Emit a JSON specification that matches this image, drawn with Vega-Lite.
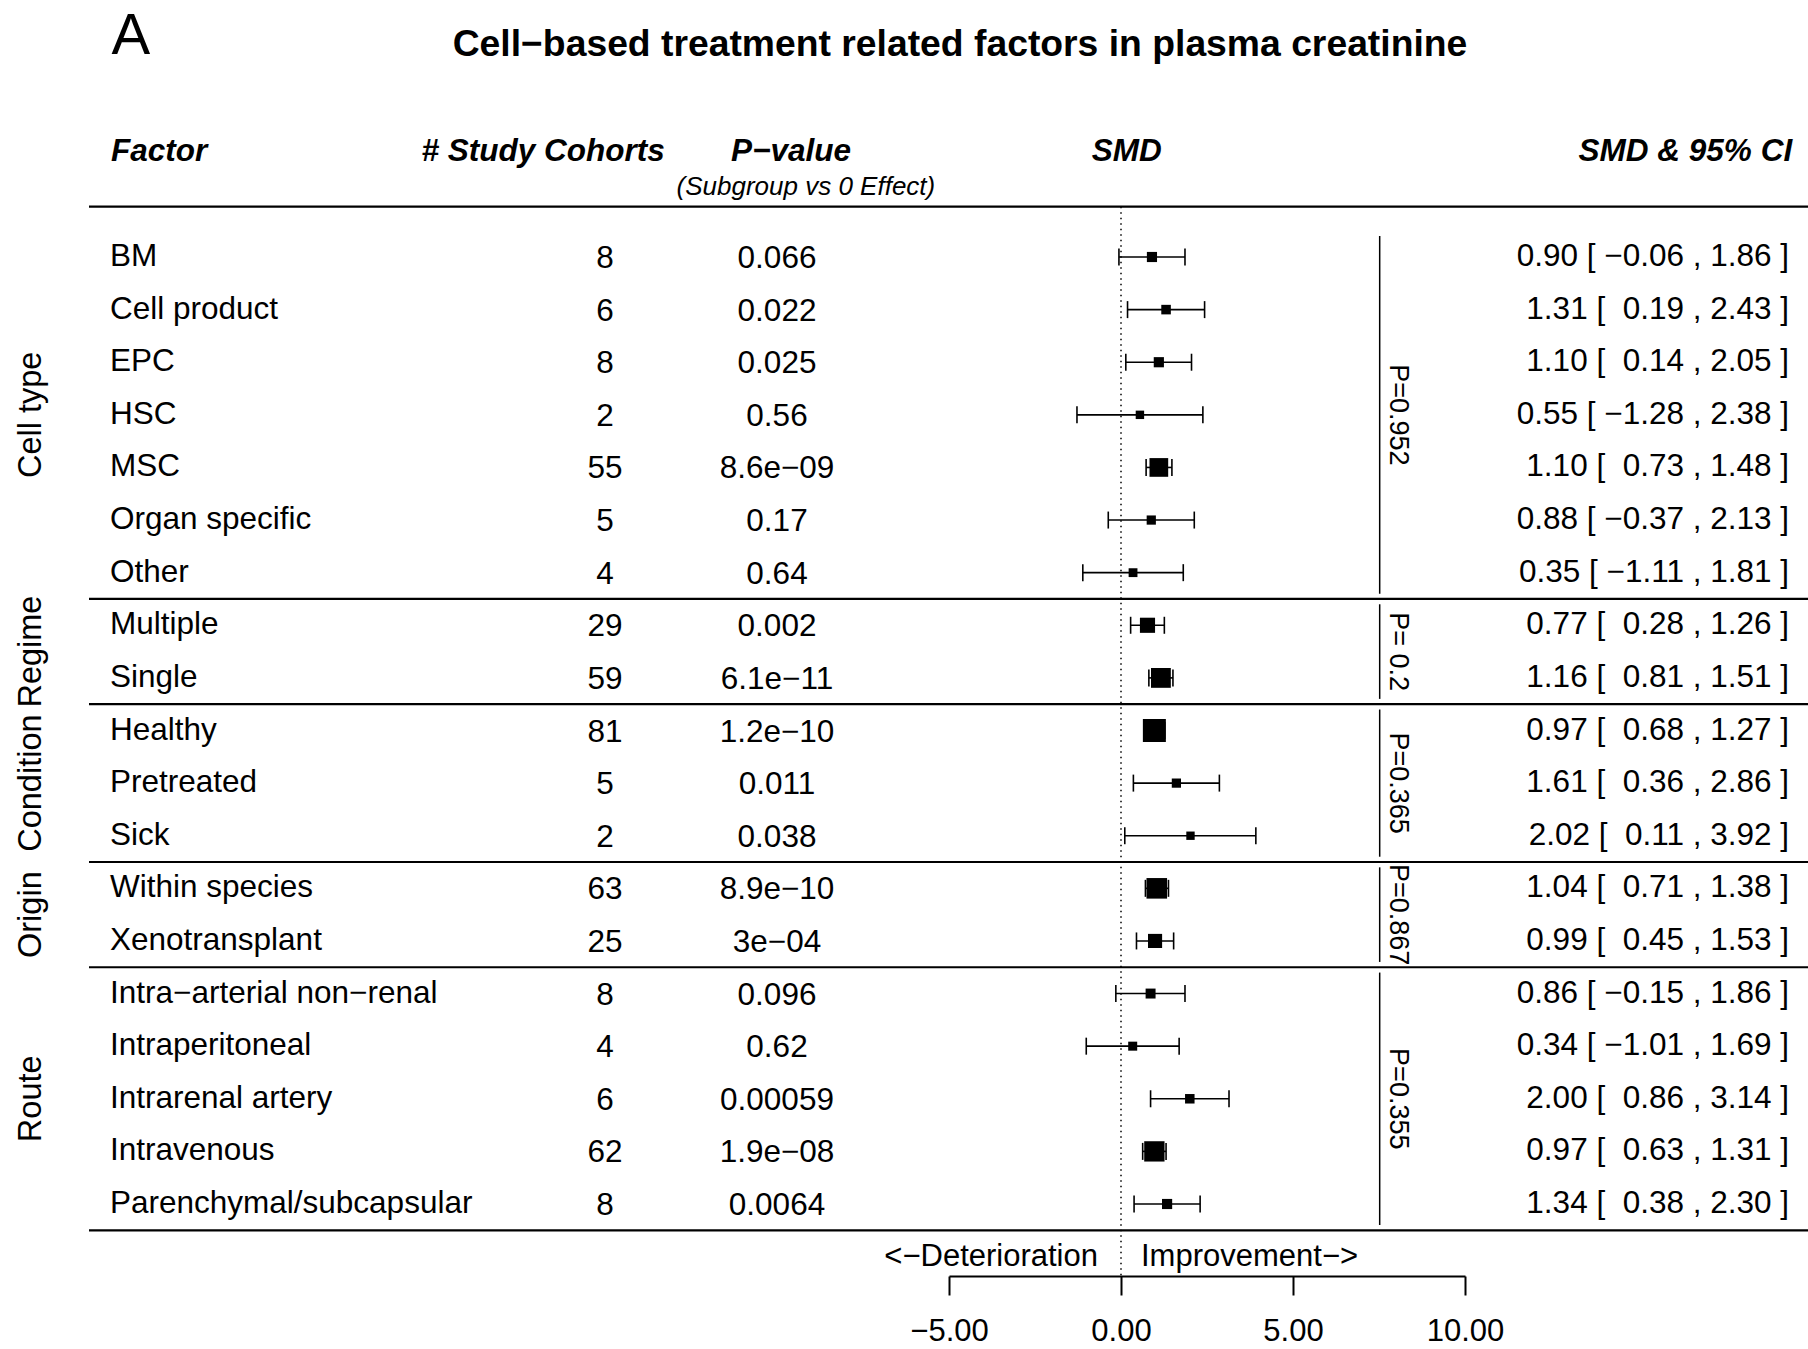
{
  "$schema": "https://vega.github.io/schema/vega-lite/v6.json",
  "width": 1808,
  "height": 1349,
  "autosize": {"type": "none"},
  "padding": 0,
  "background": "white",
  "config": {
    "view": {"stroke": null},
    "font": "Liberation Sans",
    "text": {"font": "Liberation Sans", "color": "black"}
  },
  "data": {
    "values": [
      {"row": 0, "group": "Cell type", "phet": "P=0.952", "factor": "BM", "k": 8, "p": "0.066", "smd": 0.90, "lo": -0.06, "hi": 1.86, "weight": 4.17, "ci": "0.90 [ \u22120.06 , 1.86 ]"},
      {"row": 1, "group": "Cell type", "phet": "P=0.952", "factor": "Cell product", "k": 6, "p": "0.022", "smd": 1.31, "lo": 0.19, "hi": 2.43, "weight": 3.06, "ci": "1.31 [ \u00a00.19 , 2.43 ]"},
      {"row": 2, "group": "Cell type", "phet": "P=0.952", "factor": "EPC", "k": 8, "p": "0.025", "smd": 1.10, "lo": 0.14, "hi": 2.05, "weight": 4.21, "ci": "1.10 [ \u00a00.14 , 2.05 ]"},
      {"row": 3, "group": "Cell type", "phet": "P=0.952", "factor": "HSC", "k": 2, "p": "0.56", "smd": 0.55, "lo": -1.28, "hi": 2.38, "weight": 1.15, "ci": "0.55 [ \u22121.28 , 2.38 ]"},
      {"row": 4, "group": "Cell type", "phet": "P=0.952", "factor": "MSC", "k": 55, "p": "8.6e\u221209", "smd": 1.10, "lo": 0.73, "hi": 1.48, "weight": 27.3, "ci": "1.10 [ \u00a00.73 , 1.48 ]"},
      {"row": 5, "group": "Cell type", "phet": "P=0.952", "factor": "Organ specific", "k": 5, "p": "0.17", "smd": 0.88, "lo": -0.37, "hi": 2.13, "weight": 2.46, "ci": "0.88 [ \u22120.37 , 2.13 ]"},
      {"row": 6, "group": "Cell type", "phet": "P=0.952", "factor": "Other", "k": 4, "p": "0.64", "smd": 0.35, "lo": -1.11, "hi": 1.81, "weight": 1.80, "ci": "0.35 [ \u22121.11 , 1.81 ]"},
      {"row": 7, "group": "Regime", "phet": "P=\u00a00.2", "factor": "Multiple", "k": 29, "p": "0.002", "smd": 0.77, "lo": 0.28, "hi": 1.26, "weight": 16.0, "ci": "0.77 [ \u00a00.28 , 1.26 ]"},
      {"row": 8, "group": "Regime", "phet": "P=\u00a00.2", "factor": "Single", "k": 59, "p": "6.1e\u221211", "smd": 1.16, "lo": 0.81, "hi": 1.51, "weight": 31.4, "ci": "1.16 [ \u00a00.81 , 1.51 ]"},
      {"row": 9, "group": "Condition", "phet": "P=0.365", "factor": "Healthy", "k": 81, "p": "1.2e\u221210", "smd": 0.97, "lo": 0.68, "hi": 1.27, "weight": 44.1, "ci": "0.97 [ \u00a00.68 , 1.27 ]"},
      {"row": 10, "group": "Condition", "phet": "P=0.365", "factor": "Pretreated", "k": 5, "p": "0.011", "smd": 1.61, "lo": 0.36, "hi": 2.86, "weight": 2.46, "ci": "1.61 [ \u00a00.36 , 2.86 ]"},
      {"row": 11, "group": "Condition", "phet": "P=0.365", "factor": "Sick", "k": 2, "p": "0.038", "smd": 2.02, "lo": 0.11, "hi": 3.92, "weight": 1.06, "ci": "2.02 [ \u00a00.11 , 3.92 ]"},
      {"row": 12, "group": "Origin", "phet": "P=0.867", "factor": "Within species", "k": 63, "p": "8.9e\u221210", "smd": 1.04, "lo": 0.71, "hi": 1.38, "weight": 34.2, "ci": "1.04 [ \u00a00.71 , 1.38 ]"},
      {"row": 13, "group": "Origin", "phet": "P=0.867", "factor": "Xenotransplant", "k": 25, "p": "3e\u221204", "smd": 0.99, "lo": 0.45, "hi": 1.53, "weight": 13.2, "ci": "0.99 [ \u00a00.45 , 1.53 ]"},
      {"row": 14, "group": "Route", "phet": "P=0.355", "factor": "Intra\u2212arterial non\u2212renal", "k": 8, "p": "0.096", "smd": 0.86, "lo": -0.15, "hi": 1.86, "weight": 3.80, "ci": "0.86 [ \u22120.15 , 1.86 ]"},
      {"row": 15, "group": "Route", "phet": "P=0.355", "factor": "Intraperitoneal", "k": 4, "p": "0.62", "smd": 0.34, "lo": -1.01, "hi": 1.69, "weight": 2.11, "ci": "0.34 [ \u22121.01 , 1.69 ]"},
      {"row": 16, "group": "Route", "phet": "P=0.355", "factor": "Intrarenal artery", "k": 6, "p": "0.00059", "smd": 2.00, "lo": 0.86, "hi": 3.14, "weight": 2.96, "ci": "2.00 [ \u00a00.86 , 3.14 ]"},
      {"row": 17, "group": "Route", "phet": "P=0.355", "factor": "Intravenous", "k": 62, "p": "1.9e\u221208", "smd": 0.97, "lo": 0.63, "hi": 1.31, "weight": 33.2, "ci": "0.97 [ \u00a00.63 , 1.31 ]"},
      {"row": 18, "group": "Route", "phet": "P=0.355", "factor": "Parenchymal/subcapsular", "k": 8, "p": "0.0064", "smd": 1.34, "lo": 0.38, "hi": 2.30, "weight": 4.17, "ci": "1.34 [ \u00a00.38 , 2.30 ]"}
    ]
  },
  "layer": [
    {
      "data": {"values": [{"ref": "no effect"}]},
      "mark": {"type": "rule", "strokeDash": [1.5, 4], "strokeWidth": 1.5, "color": "black"},
      "encoding": {
        "x": {
          "datum": 0, "type": "quantitative",
          "scale": {"domain": [-5, 10], "range": [949, 1465], "nice": false, "zero": false},
          "axis": {
            "values": [-5, 0, 5, 10], "format": ".2f", "title": null, "orient": "bottom", "offset": -73,
            "grid": false, "domainColor": "black", "domainWidth": 2, "tickColor": "black", "tickWidth": 2,
            "tickSize": 19, "labelFont": "Liberation Sans", "labelFontSize": 31, "labelColor": "black",
            "labelPadding": 21, "labelFlush": false, "labelOverlap": false
          }
        },
        "y": {"datum": -0.956, "type": "quantitative", "scale": {"domain": [0, 18], "range": [257, 1204], "nice": false, "zero": false}, "axis": null},
        "y2": {"datum": 19.37}
      }
    },
    {
      "data": {"values": [{"ref": "top line"}]},
      "mark": {"type": "rule", "strokeWidth": 2.2, "color": "black"},
      "encoding": {
        "x": {"datum": -30, "type": "quantitative"},
        "x2": {"datum": 20},
        "y": {"datum": -0.956, "type": "quantitative", "axis": null}
      }
    },
    {
      "transform": [{"aggregate": [{"op": "max", "field": "row", "as": "maxrow"}], "groupby": ["group"]}],
      "mark": {"type": "rule", "strokeWidth": 2.2, "color": "black", "yOffset": 26.3},
      "encoding": {
        "x": {"datum": -30, "type": "quantitative"},
        "x2": {"datum": 20},
        "y": {"field": "maxrow", "type": "quantitative", "axis": null}
      }
    },
    {
      "transform": [{"aggregate": [{"op": "min", "field": "row", "as": "minrow"}, {"op": "max", "field": "row", "as": "maxrow"}], "groupby": ["group"]}],
      "mark": {"type": "rule", "strokeWidth": 1.5, "color": "black", "yOffset": -21, "y2Offset": 21},
      "encoding": {
        "x": {"datum": 7.52, "type": "quantitative"},
        "y": {"field": "minrow", "type": "quantitative", "axis": null},
        "y2": {"field": "maxrow"}
      }
    },
    {
      "mark": {"type": "rule", "strokeWidth": 1.6, "color": "black"},
      "encoding": {
        "x": {"field": "lo", "type": "quantitative"},
        "x2": {"field": "hi"},
        "y": {"field": "row", "type": "quantitative", "axis": null}
      }
    },
    {
      "mark": {"type": "rule", "strokeWidth": 1.6, "color": "black", "yOffset": -8.5, "y2Offset": 8.5},
      "encoding": {
        "x": {"field": "lo", "type": "quantitative"},
        "y": {"field": "row", "type": "quantitative", "axis": null},
        "y2": {"field": "row"}
      }
    },
    {
      "mark": {"type": "rule", "strokeWidth": 1.6, "color": "black", "yOffset": -8.5, "y2Offset": 8.5},
      "encoding": {
        "x": {"field": "hi", "type": "quantitative"},
        "y": {"field": "row", "type": "quantitative", "axis": null},
        "y2": {"field": "row"}
      }
    },
    {
      "mark": {"type": "square", "filled": true, "opacity": 1, "color": "black"},
      "encoding": {
        "x": {"field": "smd", "type": "quantitative"},
        "y": {"field": "row", "type": "quantitative", "axis": null},
        "size": {"field": "weight", "type": "quantitative", "scale": {"domain": [1.06, 44.1], "range": [70, 529], "zero": false}, "legend": null}
      }
    },
    {
      "mark": {"type": "text", "align": "left", "baseline": "middle", "fontSize": 31.5},
      "encoding": {
        "x": {"datum": -29.39, "type": "quantitative"},
        "y": {"field": "row", "type": "quantitative", "axis": null},
        "text": {"field": "factor"}
      }
    },
    {
      "mark": {"type": "text", "align": "center", "baseline": "middle", "fontSize": 31.5, "dy": 2},
      "encoding": {
        "x": {"datum": -15, "type": "quantitative"},
        "y": {"field": "row", "type": "quantitative", "axis": null},
        "text": {"field": "k"}
      }
    },
    {
      "mark": {"type": "text", "align": "center", "baseline": "middle", "fontSize": 31.5, "dy": 2},
      "encoding": {
        "x": {"datum": -10, "type": "quantitative"},
        "y": {"field": "row", "type": "quantitative", "axis": null},
        "text": {"field": "p"}
      }
    },
    {
      "mark": {"type": "text", "align": "right", "baseline": "middle", "fontSize": 31.5},
      "encoding": {
        "x": {"datum": 19.42, "type": "quantitative"},
        "y": {"field": "row", "type": "quantitative", "axis": null},
        "text": {"field": "ci"}
      }
    },
    {
      "transform": [{"aggregate": [{"op": "mean", "field": "row", "as": "midrow"}], "groupby": ["group"]}],
      "mark": {"type": "text", "align": "center", "baseline": "middle", "fontSize": 32.5, "angle": 270},
      "encoding": {
        "x": {"datum": -31.69, "type": "quantitative"},
        "y": {"field": "midrow", "type": "quantitative", "axis": null},
        "text": {"field": "group"}
      }
    },
    {
      "transform": [{"aggregate": [{"op": "mean", "field": "row", "as": "midrow"}], "groupby": ["group", "phet"]}],
      "mark": {"type": "text", "align": "center", "baseline": "middle", "fontSize": 27, "angle": 90},
      "encoding": {
        "x": {"datum": 8.05, "type": "quantitative"},
        "y": {"field": "midrow", "type": "quantitative", "axis": null},
        "text": {"field": "phet"}
      }
    },
    {
      "data": {"values": [{"label": "A"}]},
      "mark": {"type": "text", "align": "center", "baseline": "middle", "fontSize": 58},
      "encoding": {
        "x": {"datum": -28.78, "type": "quantitative"},
        "y": {"datum": -4.185, "type": "quantitative", "axis": null},
        "text": {"field": "label"}
      }
    },
    {
      "data": {"values": [{"label": "Cell\u2212based treatment related factors in plasma creatinine"}]},
      "mark": {"type": "text", "align": "center", "baseline": "middle", "fontSize": 37.3, "fontWeight": "bold"},
      "encoding": {
        "x": {"datum": -4.68, "type": "quantitative"},
        "y": {"datum": -4.03, "type": "quantitative", "axis": null},
        "text": {"field": "label"}
      }
    },
    {
      "data": {"values": [{"label": "Factor"}]},
      "mark": {"type": "text", "align": "left", "baseline": "middle", "fontSize": 31.5, "fontWeight": "bold", "fontStyle": "italic"},
      "encoding": {
        "x": {"datum": -29.36, "type": "quantitative"},
        "y": {"datum": -1.99, "type": "quantitative", "axis": null},
        "text": {"field": "label"}
      }
    },
    {
      "data": {"values": [{"label": "# Study Cohorts"}]},
      "mark": {"type": "text", "align": "center", "baseline": "middle", "fontSize": 31.5, "fontWeight": "bold", "fontStyle": "italic"},
      "encoding": {
        "x": {"datum": -16.8, "type": "quantitative"},
        "y": {"datum": -1.99, "type": "quantitative", "axis": null},
        "text": {"field": "label"}
      }
    },
    {
      "data": {"values": [{"label": "P\u2212value"}]},
      "mark": {"type": "text", "align": "center", "baseline": "middle", "fontSize": 31.5, "fontWeight": "bold", "fontStyle": "italic"},
      "encoding": {
        "x": {"datum": -9.59, "type": "quantitative"},
        "y": {"datum": -1.99, "type": "quantitative", "axis": null},
        "text": {"field": "label"}
      }
    },
    {
      "data": {"values": [{"label": "(Subgroup vs 0 Effect)"}]},
      "mark": {"type": "text", "align": "center", "baseline": "middle", "fontSize": 26, "fontStyle": "italic"},
      "encoding": {
        "x": {"datum": -9.16, "type": "quantitative"},
        "y": {"datum": -1.335, "type": "quantitative", "axis": null},
        "text": {"field": "label"}
      }
    },
    {
      "data": {"values": [{"label": "SMD"}]},
      "mark": {"type": "text", "align": "center", "baseline": "middle", "fontSize": 31.5, "fontWeight": "bold", "fontStyle": "italic"},
      "encoding": {
        "x": {"datum": 0.17, "type": "quantitative"},
        "y": {"datum": -1.99, "type": "quantitative", "axis": null},
        "text": {"field": "label"}
      }
    },
    {
      "data": {"values": [{"label": "SMD & 95% CI"}]},
      "mark": {"type": "text", "align": "right", "baseline": "middle", "fontSize": 31.5, "fontWeight": "bold", "fontStyle": "italic"},
      "encoding": {
        "x": {"datum": 19.51, "type": "quantitative"},
        "y": {"datum": -1.99, "type": "quantitative", "axis": null},
        "text": {"field": "label"}
      }
    },
    {
      "data": {"values": [{"label": "<\u2212Deterioration"}]},
      "mark": {"type": "text", "align": "right", "baseline": "middle", "fontSize": 31},
      "encoding": {
        "x": {"datum": -0.669, "type": "quantitative"},
        "y": {"datum": 19.0, "type": "quantitative", "axis": null},
        "text": {"field": "label"}
      }
    },
    {
      "data": {"values": [{"label": "Improvement\u2212>"}]},
      "mark": {"type": "text", "align": "left", "baseline": "middle", "fontSize": 31},
      "encoding": {
        "x": {"datum": 0.581, "type": "quantitative"},
        "y": {"datum": 19.0, "type": "quantitative", "axis": null},
        "text": {"field": "label"}
      }
    }
  ]
}
